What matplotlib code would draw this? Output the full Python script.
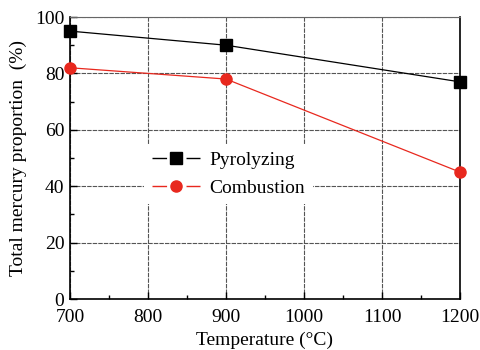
import matplotlib
matplotlib.use("Agg")
from matplotlib import pyplot as plt
from matplotlib.ticker import MultipleLocator
from matplotlib.lines import Line2D

plt.rcParams['font.family'] = ['Liberation Serif', 'DejaVu Serif']
plt.rcParams['font.size'] = 14

temperature = [700, 900, 1200]
pyrolyzing = [95, 90, 77]
combustion = [82, 78, 45]

red = '#e8281e'

fig = plt.figure(figsize=(4.81, 3.5), dpi=100)
ax = fig.add_axes([70 / 481, 51 / 350, 390 / 481, 282 / 350])

ax.plot(temperature, pyrolyzing, color='black', lw=0.9, marker='s', ms=8,
        clip_on=False, zorder=3)
ax.plot(temperature, combustion, color=red, lw=0.9, marker='o', ms=8,
        clip_on=False, zorder=3)

ax.set_xlim(700, 1200)
ax.set_ylim(0, 100)
ax.xaxis.set_major_locator(MultipleLocator(100))
ax.xaxis.set_minor_locator(MultipleLocator(50))
ax.yaxis.set_major_locator(MultipleLocator(20))
ax.yaxis.set_minor_locator(MultipleLocator(10))
ax.tick_params(which='both', direction='in', top=False, right=False)
ax.tick_params(which='major', length=5, width=1)
ax.tick_params(which='minor', length=3, width=1)
ax.tick_params(axis='x', pad=7)
ax.tick_params(axis='y', pad=4)
ax.grid(True, which='major', color='#555555', ls=(0, (4, 1)), lw=0.8)
ax.set_axisbelow(True)
for s in ['left', 'bottom', 'right']:
    ax.spines[s].set_linewidth(1.2)
ax.spines['top'].set_color('#666666')

ax.set_xlabel('Temperature (°C)', labelpad=4)
ax.set_ylabel('Total mercury proportion  (%)', labelpad=6)

# legend handles: line - gap - marker - gap - line
hl = 2.5
seg = 10.5
gap = hl * 14 - 2 * seg
h_pyr = (Line2D([], [], color='black', lw=1, ls=(0, (seg, gap))),
         Line2D([], [], color='black', ls='none', marker='s', ms=8))
h_com = (Line2D([], [], color=red, lw=1, ls=(0, (seg, gap))),
         Line2D([], [], color=red, ls='none', marker='o', ms=8))
ax.legend([h_pyr, h_com], ['Pyrolyzing', 'Combustion'],
          loc='upper left', bbox_to_anchor=(0.19, 0.55), frameon=True,
          fancybox=False, edgecolor='none', facecolor='white',
          framealpha=1, handlelength=hl, handletextpad=0.45,
          labelspacing=0.5, borderaxespad=0)

plt.savefig('out.png', dpi=100)
